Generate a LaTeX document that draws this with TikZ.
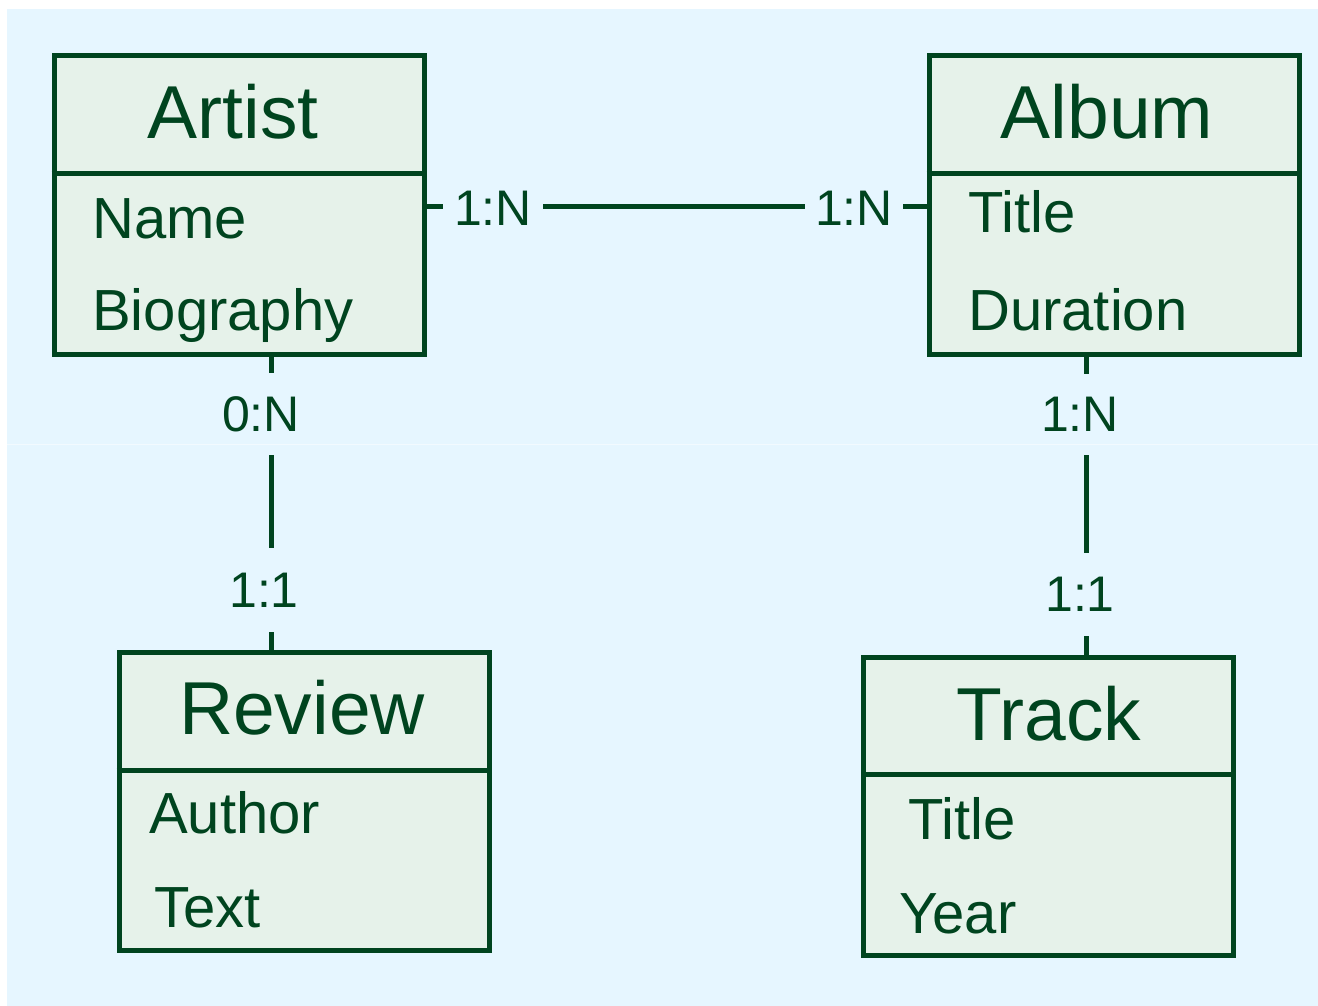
\documentclass[tikz,border=0pt]{standalone}
\usepackage{fontspec}
\setmainfont{Liberation Sans}
\definecolor{dk}{HTML}{00441F}
\definecolor{boxfill}{HTML}{E6F2EA}
\definecolor{bg}{HTML}{E6F6FF}
\definecolor{seam}{HTML}{F2FAFF}
\tikzset{
  ebox/.style={draw=dk, fill=boxfill, line width=5pt, minimum width=370pt, minimum height=298pt, inner sep=0pt},
  divider/.style={draw=dk, line width=5pt},
  conn/.style={draw=dk, line width=5.5pt},
  etitle/.style={text=dk, font=\fontsize{75}{80}\selectfont, anchor=base, inner sep=0pt},
  attr/.style={text=dk, font=\fontsize{58}{62}\selectfont, anchor=base west, inner sep=0pt},
  card/.style={text=dk, font=\fontsize{50}{54}\selectfont, inner sep=0pt}
}
\begin{document}
\begin{tikzpicture}[x=1pt,y=-1pt]
\useasboundingbox (0,0) rectangle (1318,1006);
\fill[white] (0,0) rectangle (1318,1006);
\fill[bg] (7,9) rectangle (1318,1006);
\draw[seam, line width=1pt] (7,444) -- (1318,444);

% entity boxes
\node[ebox] (artist) at (239,205) {};
\node[ebox] (album)  at (1114,205) {};
\node[ebox] (review) at (304,801) {};
\node[ebox] (track)  at (1048.5,806) {};

% dividers
\draw[divider] ([yshift=-120pt]artist.north west) -- ([yshift=-120pt]artist.north east);
\draw[divider] ([yshift=-120pt]album.north west) -- ([yshift=-120pt]album.north east);
\draw[divider] ([yshift=-121pt]review.north west) -- ([yshift=-121pt]review.north east);
\draw[divider] ([yshift=-120pt]track.north west) -- ([yshift=-120pt]track.north east);

% titles
\node[etitle] (tartist) at (233,139) {Artist};
\node[etitle] (talbum)  at (1107,139) {Album};
\node[etitle] (treview) at (302,734) {Review};
\node[etitle] (ttrack)  at (1049,740) {Track};

% attributes
\node[attr] (aname) at (92,238) {Name};
\node[attr] (abio)  at (92,330) {Biography};
\node[attr] (altitle) at (968,233) {Title};
\node[attr] (aldur)   at (968,330) {Duration};
\node[attr] (rauth) at (149,833) {Author};
\node[attr] (rtext) at (154,927) {Text};
\node[attr] (ttitle) at (908,839) {Title};
\node[attr] (tyear)  at (899,933) {Year};

% connector attachment points
\coordinate (pa1) at ([yshift=-153pt]artist.north east);
\coordinate (pb1) at ([yshift=-153pt]album.north west);
\coordinate (pa2) at ([xshift=220pt]artist.south west);
\coordinate (pb3) at ([xshift=160pt]album.south west);

% cardinality labels (positioned in the gaps of the lines)
\node[card, minimum width=100pt, minimum height=60pt] (l1) at (493,208) {1:N};
\node[card, minimum width=98pt, minimum height=60pt] (l2) at (854,208) {1:N};
\node[card, minimum width=100pt, minimum height=82pt] (l3) at (261,414) {0:N};
\node[card, minimum width=100pt, minimum height=84pt] (l4) at (264,590) {1:1};
\node[card, minimum width=100pt, minimum height=81pt] (l5) at (1080,414.5) {1:N};
\node[card, minimum width=100pt, minimum height=83pt] (l6) at (1080,594.5) {1:1};

% connectors
\draw[conn] (pa1) -- (pa1 -| l1.west);
\draw[conn] (pa1 -| l1.east) -- (pb1 -| l2.west);
\draw[conn] (pb1 -| l2.east) -- (pb1);

\draw[conn] (pa2) -- (pa2 |- l3.north);
\draw[conn] (pa2 |- l3.south) -- (pa2 |- l4.north);
\draw[conn] (pa2 |- l4.south) -- (pa2 |- review.north);

\draw[conn] (pb3) -- (pb3 |- l5.north);
\draw[conn] (pb3 |- l5.south) -- (pb3 |- l6.north);
\draw[conn] (pb3 |- l6.south) -- (pb3 |- track.north);
\end{tikzpicture}
\end{document}
